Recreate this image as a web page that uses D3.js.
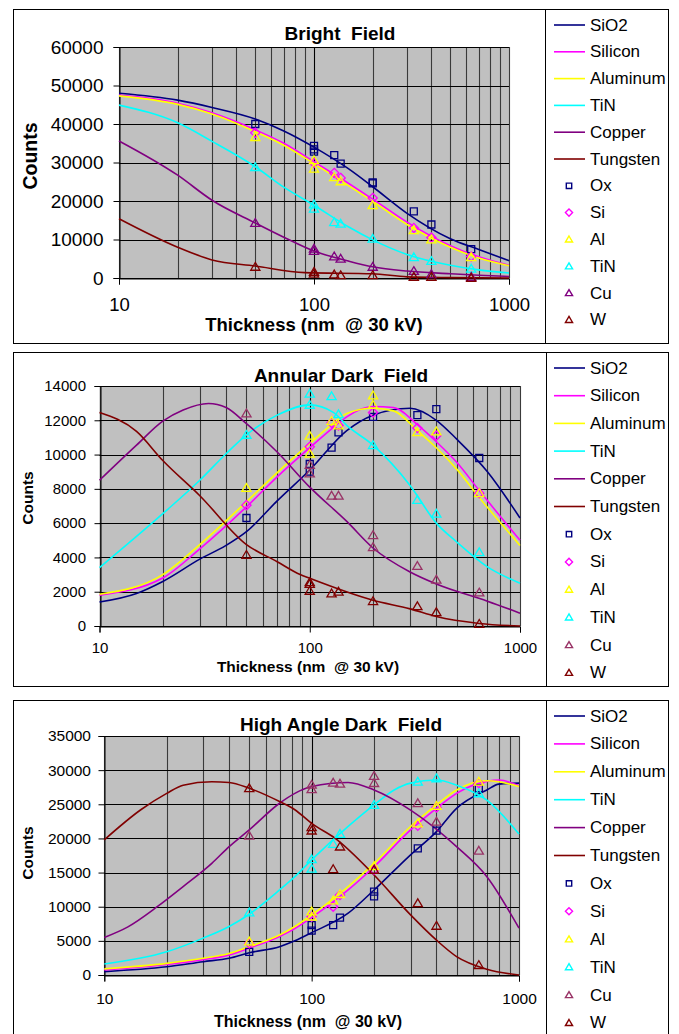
<!DOCTYPE html>
<html><head><meta charset="utf-8">
<script src="https://cdn.jsdelivr.net/npm/d3@7"></script>
<style>
body{margin:0;background:#fff}
svg{display:block}
text{font-family:"Liberation Sans",Arial,Helvetica,sans-serif;fill:#000}
</style>
</head><body>
<svg id="chart" width="679" height="1034"></svg>
<script>
// ---------- shared labels ----------
const lineNames = ["SiO2","Silicon","Aluminum","TiN","Copper","Tungsten"];
const markerNames = ["Ox","Si","Al","TiN","Cu","W"];
const lineColors = ["#000080","#ff00ff","#ffff00","#00ffff","#800080","#800000"];
const markerShapes = ["square","diamond","triangle","triangle","triangle","triangle"];
const xTickValues = [10,100,1000];
const xTitle = "Thickness (nm  @ 30 kV)";
const yTitle = "Counts";

// ---------- Bright Field ----------
const bfYTicks = [0,10000,20000,30000,40000,50000,60000];
const bfSiO2 = [[10,48000],[20,46200],[30,44300],[50,41300],[70,38200],[100,34000],[150,28400],[200,23700],[300,16800],[500,10200],[700,7400],[1000,4500]];
const bfSilicon = [[10,47500],[20,45400],[30,42900],[50,38500],[70,35000],[100,30200],[150,24600],[200,20500],[300,14500],[500,8400],[700,5500],[1000,3300]];
const bfAluminum = [[10,47300],[20,45100],[30,42600],[50,38000],[70,34500],[100,29700],[150,24000],[200,19900],[300,13900],[500,8000],[700,5200],[1000,3200]];
const bfTiNFit = [[10,44900],[20,40300],[30,35500],[50,28900],[70,23600],[100,18900],[150,13300],[200,9900],[300,6100],[500,3300],[700,2100],[1000,1300]];
const bfCopper = [[10,35600],[20,26700],[30,20200],[50,14300],[70,10600],[100,7000],[150,4400],[200,2900],[300,1800],[500,1100],[700,700],[1000,400]];
const bfTungsten = [[10,15400],[20,8000],[30,4700],[50,3100],[90,1400],[200,1100],[300,300],[500,100],[1000,0]];
const bfOx = [[50,40000],[100,34300],[100,33400],[100,32800],[127,31900],[137,29700],[200,24800],[200,24600],[325,17300],[400,13900],[640,7500]];
const bfSi = [[50,37700],[100,29900],[127,27300],[137,26000],[200,20800],[325,13000],[400,10500],[640,5600]];
const bfAl = [[50,36600],[100,30600],[100,28400],[127,26200],[137,25100],[200,18900],[325,12400],[400,10000],[640,5400]];
const bfTiN = [[50,28800],[100,19100],[100,18000],[127,14500],[137,14100],[200,10200],[325,5400],[400,4400],[640,2400]];
const bfCu = [[50,14300],[100,7600],[100,7000],[127,5600],[137,5000],[200,2900],[325,1800],[400,1000],[640,300]];
const bfW = [[50,2900],[100,1600],[100,1100],[127,900],[137,700],[200,700],[325,300],[400,300],[640,0]];

// ---------- Annular Dark Field ----------
const adfYTicks = [0,2000,4000,6000,8000,10000,12000,14000];
const adfSiO2 = [[10,1400],[15,1900],[20,2600],[30,3900],[40,4700],[50,5500],[70,7300],[100,9100],[150,11400],[200,12300],[300,12700],[400,12000],[500,10900],[700,9000],[1000,6300]];
const adfSilicon = [[10,1800],[20,2800],[30,4500],[50,6950],[70,8700],[100,10400],[130,11600],[150,12200],[200,12800],[250,12750],[325,11750],[400,10750],[500,9550],[640,7900],[1000,5000]];
const adfAluminum = [[10,1850],[20,3000],[30,4750],[50,7250],[70,8950],[100,10650],[130,11850],[150,12400],[200,12700],[250,12550],[325,11400],[400,10400],[500,9150],[640,7500],[1000,4700]];
const adfTiNFit = [[10,3400],[20,6550],[30,8500],[40,10050],[50,11150],[70,12300],[100,12900],[130,12450],[150,11700],[200,10550],[300,8200],[400,6000],[500,4900],[700,3450],[1000,2500]];
const adfCopper = [[10,8500],[15,10550],[20,11950],[25,12600],[33,12980],[40,12750],[50,11800],[70,10150],[100,8100],[150,6100],[200,4550],[300,3150],[400,2450],[700,1450],[1000,750]];
const adfTungsten = [[10,12450],[15,11350],[20,9650],[30,7600],[50,4750],[70,3750],[90,3000],[100,2780],[200,1500],[300,1000],[400,550],[640,150],[1000,0]];
const adfOx = [[50,6300],[100,9450],[100,9000],[127,10400],[137,11300],[200,12200],[325,12300],[400,12650],[640,9800]];
const adfSi = [[50,7050],[100,10450],[127,11850],[137,11700],[200,12450],[325,11550],[400,11100],[640,7750]];
const adfAl = [[50,8050],[100,11100],[100,10050],[127,11950],[137,11700],[200,13450],[200,12900],[325,11300],[400,11350],[640,7750]];
const adfTiN = [[50,11150],[100,13550],[100,12900],[127,13400],[137,12350],[200,10550],[325,7350],[400,6550],[640,4300]];
const adfCu = [[50,12400],[100,8900],[100,9400],[127,7600],[137,7600],[200,5300],[200,4600],[325,3500],[400,2700],[640,1950]];
const adfW = [[50,4150],[100,2450],[100,2050],[100,2550],[127,1900],[137,2000],[200,1450],[325,1150],[400,800],[640,120]];

// ---------- High Angle Dark Field ----------
const hadfYTicks = [0,5000,10000,15000,20000,25000,30000,35000];
const hadfSiO2 = [[10,500],[20,1200],[30,1950],[40,2450],[50,3250],[70,4150],[83,5000],[100,6200],[150,9050],[200,12450],[300,17600],[400,21000],[500,24400],[700,27100],[800,27950],[1000,28100]];
const hadfSilicon = [[10,750],[20,1550],[30,2250],[40,2950],[50,3950],[70,5650],[83,6800],[100,8400],[150,12450],[200,15850],[300,21250],[400,24400],[500,26600],[700,28350],[800,28550],[1000,27700]];
const hadfAluminum = [[10,900],[20,1700],[30,2450],[40,3150],[50,4150],[70,5850],[83,7100],[100,8800],[150,12950],[200,16350],[300,21750],[400,24900],[500,27100],[700,28450],[800,28300],[1000,27600]];
const hadfTiNFit = [[10,1600],[20,3400],[30,5400],[40,7100],[50,8900],[70,12450],[83,14400],[100,16850],[150,21750],[200,24900],[250,27100],[300,28100],[400,28550],[500,27800],[700,25600],[1000,20650]];
const hadfCopper = [[10,5500],[13,7050],[18,10000],[24,12950],[33,16350],[40,18800],[50,21250],[70,25150],[83,26600],[100,27600],[150,28200],[200,27100],[300,24150],[500,18800],[700,14400],[1000,6850]];
const hadfTungsten = [[10,19800],[15,24200],[20,26600],[24,27800],[33,28300],[40,28200],[50,27350],[70,25400],[83,24200],[100,22200],[130,20000],[200,14650],[300,8800],[400,5100],[500,2700],[700,850],[1000,0]];
const hadfOx = [[50,3400],[100,7300],[100,6500],[127,7300],[137,8400],[200,12200],[200,11500],[325,18550],[400,21150],[640,27350]];
const hadfSi = [[50,4650],[100,8550],[127,10000],[137,11700],[200,15400],[325,21850],[400,24550],[640,28100]];
const hadfAl = [[50,4900],[100,9300],[100,8550],[127,10900],[137,11850],[200,15950],[325,22200],[400,24750],[640,28300]];
const hadfTiN = [[50,9150],[100,16950],[100,15550],[127,19200],[137,20650],[200,24900],[325,28300],[400,28800],[640,26600]];
const hadfCu = [[50,20400],[100,27850],[100,27200],[127,28150],[137,28000],[200,29150],[200,28100],[325,25150],[400,22450],[640,18200]];
const hadfW = [[50,27350],[100,21650],[100,21150],[127,15500],[137,18800],[200,15400],[325,10500],[400,7200],[640,1450]];

// ---------- panel layout ----------
const panels = [
  { title:"Bright  Field", yTicks:bfYTicks,
    lines:[bfSiO2,bfSilicon,bfAluminum,bfTiNFit,bfCopper,bfTungsten],
    markers:[bfOx,bfSi,bfAl,bfTiN,bfCu,bfW],
    markerColors:["#000080","#ff00ff","#ffff00","#00ffff","#800080","#800000"],
    box:[13,9,532,334], legend:[545,9,123,334], rowY0:25, rowStep:26.8,
    plot:{l:119,r:509,t:47,b:278},
    titleX:340, titleY:40, titleSize:19,
    tickSize:19, xTickSize:18.5, tickPad:10, xTickDy:32,
    axisTitleSize:18.5, xTitleX:314, xTitleY:331,
    yTitleX:29.5, yTitleY:156, yTitleSize:19.5 },
  { title:"Annular Dark  Field", yTicks:adfYTicks,
    lines:[adfSiO2,adfSilicon,adfAluminum,adfTiNFit,adfCopper,adfTungsten],
    markers:[adfOx,adfSi,adfAl,adfTiN,adfCu,adfW],
    markerColors:["#000080","#ff00ff","#ffff00","#00ffff","#993366","#800000"],
    box:[13,352,533,334], legend:[546,352,122,334], rowY0:368, rowStep:27.7,
    plot:{l:99.5,r:520,t:386,b:626},
    titleX:341, titleY:382, titleSize:19,
    tickSize:15, xTickSize:15, tickPad:8.5, xTickDy:26,
    axisTitleSize:15.5, xTitleX:308, xTitleY:672,
    yTitleX:27, yTitleY:498, yTitleSize:15.5 },
  { title:"High Angle Dark  Field", yTicks:hadfYTicks,
    lines:[hadfSiO2,hadfSilicon,hadfAluminum,hadfTiNFit,hadfCopper,hadfTungsten],
    markers:[hadfOx,hadfSi,hadfAl,hadfTiN,hadfCu,hadfW],
    markerColors:["#000080","#ff00ff","#ffff00","#00ffff","#993366","#800000"],
    box:[13,700,533,340], legend:[546,700,122,340], rowY0:716, rowStep:27.9,
    plot:{l:104.3,r:519,t:736,b:975},
    titleX:341, titleY:731, titleSize:19,
    tickSize:15.5, xTickSize:15.5, tickPad:7.5, xTickDy:28,
    axisTitleSize:16, xTitleX:308, xTitleY:1027,
    yTitleX:27, yTitleY:853, yTitleSize:15.5 }
];

function markerPath(shape, r){
  if(shape==="square") return `M${-r},${-r}H${r}V${r}H${-r}Z`;
  if(shape==="diamond") return `M0,${-r*1.15}L${r*1.15},0L0,${r*1.15}L${-r*1.15},0Z`;
  return `M0,${-r*1.1}L${r*1.15},${r*0.85}L${-r*1.15},${r*0.85}Z`;
}

const svg = d3.select("#chart");

panels.forEach(p => {
  const g = svg.append("g");
  g.append("rect").attr("x",p.box[0]+0.5).attr("y",p.box[1]+0.5).attr("width",p.box[2]).attr("height",p.box[3])
    .attr("fill","#fff").attr("stroke","#000").attr("stroke-width",1);
  g.append("rect").attr("x",p.legend[0]+0.5).attr("y",p.legend[1]+0.5).attr("width",p.legend[2]).attr("height",p.legend[3])
    .attr("fill","#fff").attr("stroke","#000").attr("stroke-width",1);

  const x = d3.scaleLog().domain([10,1000]).range([p.plot.l,p.plot.r]);
  const yMax = p.yTicks[p.yTicks.length-1];
  const y = d3.scaleLinear().domain([0,yMax]).range([p.plot.b,p.plot.t]);

  g.append("rect").attr("x",p.plot.l).attr("y",p.plot.t).attr("width",p.plot.r-p.plot.l).attr("height",p.plot.b-p.plot.t)
    .attr("fill","#c0c0c0");

  g.append("g").selectAll("line").data(x.ticks()).join("line")
    .attr("x1",d=>Math.round(x(d))+0.5).attr("x2",d=>Math.round(x(d))+0.5)
    .attr("y1",p.plot.t).attr("y2",p.plot.b)
    .attr("stroke",d=>d===100?"#000":"#3a3a3a").attr("stroke-width",1.1);
  g.append("g").selectAll("line").data(p.yTicks).join("line")
    .attr("x1",p.plot.l).attr("x2",p.plot.r)
    .attr("y1",d=>Math.round(y(d))+0.5).attr("y2",d=>Math.round(y(d))+0.5)
    .attr("stroke","#000").attr("stroke-width",1.1);

  const yAxis = d3.axisLeft(y).tickValues(p.yTicks).tickSize(6).tickPadding(p.tickPad).tickFormat(d3.format("d"));
  const ya = g.append("g").attr("transform",`translate(${Math.round(p.plot.l)+0.5},0)`).call(yAxis);
  ya.select(".domain").attr("stroke","#000");
  ya.selectAll("text").attr("font-size",p.tickSize).attr("font-family","Liberation Sans, Arial, sans-serif").attr("fill","#000");

  const xAxis = d3.axisBottom(x).tickValues(xTickValues).tickSize(6).tickFormat(d3.format("d"));
  const xa = g.append("g").attr("transform",`translate(0,${Math.round(p.plot.b)+0.5})`).call(xAxis);
  xa.select(".domain").attr("stroke","#000");
  xa.selectAll("text").attr("font-size",p.xTickSize).attr("font-family","Liberation Sans, Arial, sans-serif")
    .attr("fill","#000").attr("y",p.xTickDy).attr("dy",0);

  const line = d3.line().x(d=>x(d[0])).y(d=>y(d[1])).curve(d3.curveMonotoneX);
  p.lines.forEach((data,i)=>{
    g.append("path").datum(data).attr("d",line).attr("fill","none")
      .attr("stroke",lineColors[i]).attr("stroke-width",1.6);
  });

  p.markers.forEach((data,i)=>{
    const r = markerShapes[i]==="square"?3.5:4;
    g.append("g").selectAll("path").data(data).join("path")
      .attr("transform",d=>`translate(${x(d[0])},${y(d[1])})`)
      .attr("d",markerPath(markerShapes[i],r))
      .attr("fill","none").attr("stroke",p.markerColors[i]).attr("stroke-width",1.3);
  });

  g.append("text").attr("x",p.titleX).attr("y",p.titleY).attr("text-anchor","middle")
    .attr("font-size",p.titleSize).attr("font-weight","bold").style("white-space","pre").text(p.title);
  g.append("text").attr("x",p.xTitleX).attr("y",p.xTitleY).attr("text-anchor","middle")
    .attr("font-size",p.axisTitleSize).attr("font-weight","bold").style("white-space","pre").text(xTitle);
  g.append("text").attr("transform",`translate(${p.yTitleX},${p.yTitleY}) rotate(-90)`)
    .attr("text-anchor","middle").attr("dominant-baseline","central")
    .attr("font-size",p.yTitleSize).attr("font-weight","bold").text(yTitle);

  const lg = g.append("g");
  lineNames.forEach((n,i)=>{
    const yy = p.rowY0 + i*p.rowStep;
    lg.append("line").attr("x1",554).attr("x2",585).attr("y1",yy).attr("y2",yy)
      .attr("stroke",lineColors[i]).attr("stroke-width",1.6);
    lg.append("text").attr("x",590).attr("y",yy).attr("dominant-baseline","central")
      .attr("font-size",17).text(n);
  });
  markerNames.forEach((n,i)=>{
    const yy = p.rowY0 + (i+6)*p.rowStep;
    const r = markerShapes[i]==="square"?2.7:3.1;
    lg.append("path").attr("transform",`translate(569,${yy})`).attr("d",markerPath(markerShapes[i],r))
      .attr("fill","none").attr("stroke",p.markerColors[i]).attr("stroke-width",1.4);
    lg.append("text").attr("x",590).attr("y",yy).attr("dominant-baseline","central")
      .attr("font-size",17).text(n);
  });
});
</script>
</body></html>
